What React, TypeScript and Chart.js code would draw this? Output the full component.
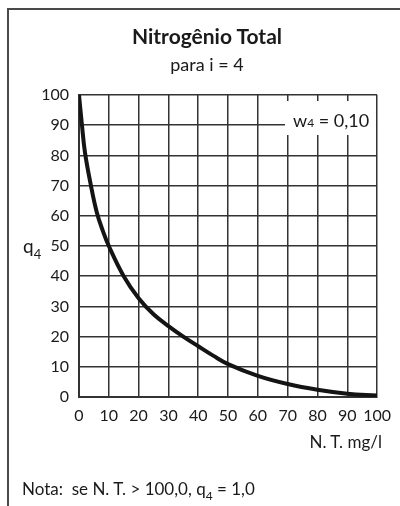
import React, { useEffect, useRef } from "react";
import { Chart, registerables } from "chart.js";

Chart.register(...registerables);

const ntValues = [0, 1, 2, 4, 6, 8, 10, 15, 20, 25, 30, 35, 40, 45, 50, 60, 70, 80, 90, 100];
const q4Values = [100, 90, 81, 70, 61, 55, 50, 40, 32.7, 27.4, 23.5, 20, 16.8, 13.7, 10.9, 7, 4.3, 2.4, 1.1, 0.5];
const xTicks = [0, 10, 20, 30, 40, 50, 60, 70, 80, 90, 100];
const yTicks = [0, 10, 20, 30, 40, 50, 60, 70, 80, 90, 100];

const FONT = "Lato, 'Open Sans', sans-serif";
const GRID = "#333";
const TEXT = "#1a1a1a";

export default function App() {
  const ref = useRef<HTMLCanvasElement | null>(null);

  useEffect(() => {
    if (!ref.current) return;
    const chart = new Chart(ref.current, {
      type: "line",
      data: {
        datasets: [
          {
            data: ntValues.map((x, i) => ({ x, y: q4Values[i] })),
            borderColor: "#141414",
            borderWidth: 4,
            pointRadius: 0,
            tension: 0.4,
            borderJoinStyle: "round",
            borderCapStyle: "round",
            fill: false,
          },
        ],
      },
      options: {
        responsive: false,
        animation: false,
        layout: { padding: { top: 95, right: 18, left: 0, bottom: 0 } },
        plugins: { legend: { display: false }, tooltip: { enabled: false }, title: { display: false } },
        scales: {
          x: {
            type: "linear",
            min: 0,
            max: 100,
            afterFit: (s: any) => {
              s.height = 109;
            },
            afterBuildTicks: (s: any) => {
              s.ticks = xTicks.map((v) => ({ value: v }));
            },
            ticks: { padding: 9, color: TEXT, font: { family: FONT, size: 16 }, maxRotation: 0, autoSkip: false },
            grid: { color: GRID, lineWidth: 1.5, drawTicks: false },
            border: { color: GRID, width: 2 },
          },
          y: {
            type: "linear",
            min: 0,
            max: 100,
            afterFit: (s: any) => {
              s.width = 79;
            },
            afterBuildTicks: (s: any) => {
              s.ticks = yTicks.map((v) => ({ value: v }));
            },
            ticks: { padding: 10, color: TEXT, font: { family: FONT, size: 16 }, autoSkip: false },
            grid: { color: GRID, lineWidth: 1.5, drawTicks: false },
            border: { color: GRID, width: 2 },
          },
        },
      },
    });
    return () => chart.destroy();
  }, []);

  const txt: React.CSSProperties = {
    position: "absolute",
    fontFamily: FONT,
    color: TEXT,
    lineHeight: 1,
    whiteSpace: "pre",
  };

  return (
    <div
      style={{
        position: "fixed",
        left: 0,
        top: 0,
        width: 400,
        height: 506,
        overflow: "hidden",
        background: "#fff",
      }}
    >
      <canvas ref={ref} width={400} height={506} style={{ position: "absolute", left: 0, top: 0 }} />
      <div
        style={{
          position: "absolute",
          left: 7,
          top: 8,
          width: 420,
          height: 520,
          borderTop: "2px solid #4a4a4a",
          borderLeft: "2px solid #4a4a4a",
          pointerEvents: "none",
        }}
      />
      <div style={{ ...txt, left: 7, width: 400, top: 25, textAlign: "center", fontSize: 21, fontWeight: 700 }}>
        Nitrogênio Total
      </div>
      <div style={{ ...txt, left: 7, width: 400, top: 55, textAlign: "center", fontSize: 18 }}>para i = 4</div>
      <div style={{ ...txt, left: 23, top: 236, fontSize: 19 }}>
        q<span style={{ fontSize: 13, position: "relative", top: 6 }}>4</span>
      </div>
      <div
        style={{
          position: "absolute",
          left: 285,
          top: 101,
          width: 91,
          height: 34,
          background: "#fff",
        }}
      />
      <div style={{ ...txt, left: 293, top: 111, fontSize: 18 }}>
        w<span style={{ fontSize: 12 }}>4</span> = 0,10
      </div>
      <div style={{ ...txt, right: 18, top: 433, fontSize: 17, textAlign: "right" }}>N. T. mg/l</div>
      <div style={{ ...txt, left: 22, top: 480, fontSize: 17 }}>
        {"Nota:  se N. T. > 100,0, q"}
        <span style={{ fontSize: 12, position: "relative", top: 5 }}>4</span>
        {" = 1,0"}
      </div>
    </div>
  );
}
